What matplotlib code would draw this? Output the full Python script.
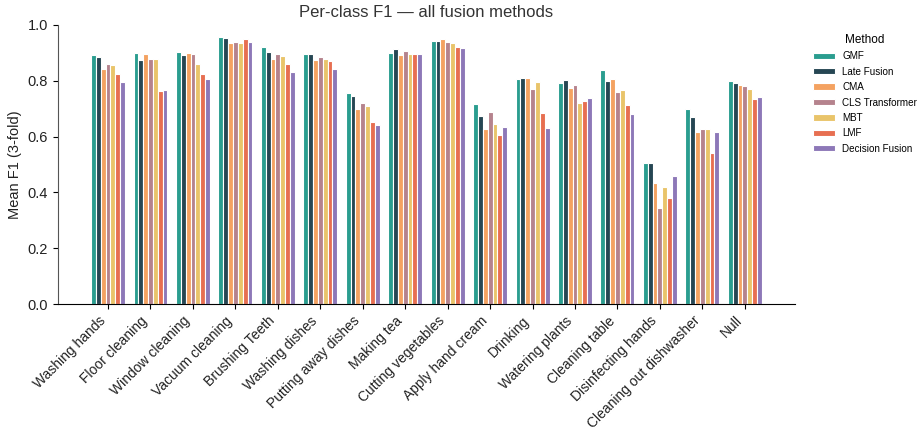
import matplotlib
matplotlib.use('Agg')
import matplotlib.pyplot as plt
import numpy as np

plt.rcParams['font.family'] = ['Liberation Sans', 'DejaVu Sans']

classes = ['Washing hands', 'Floor cleaning', 'Window cleaning', 'Vacuum cleaning',
           'Brushing Teeth', 'Washing dishes', 'Putting away dishes', 'Making tea',
           'Cutting vegetables', 'Apply hand cream', 'Drinking', 'Watering plants',
           'Cleaning table', 'Disinfecting hands', 'Cleaning out dishwasher', 'Null']

methods = ['GMF', 'Late Fusion', 'CMA', 'CLS Transformer', 'MBT', 'LMF', 'Decision Fusion']
colors = ['#2a9d8f', '#264653', '#f4a261', '#b5838d', '#e9c46a', '#e76f51', '#8d78b8']

gmf = [0.892, 0.900, 0.904, 0.956, 0.920, 0.897, 0.757, 0.900, 0.944, 0.717, 0.808, 0.793, 0.837, 0.504, 0.697, 0.799]
late_fusion = [0.885, 0.875, 0.894, 0.952, 0.902, 0.897, 0.744, 0.913, 0.944, 0.674, 0.810, 0.803, 0.799, 0.505, 0.670, 0.791]
cma = [0.841, 0.895, 0.900, 0.937, 0.878, 0.873, 0.699, 0.892, 0.949, 0.627, 0.810, 0.775, 0.806, 0.435, 0.615, 0.784]
cls_transformer = [0.860, 0.878, 0.896, 0.940, 0.896, 0.885, 0.720, 0.908, 0.939, 0.689, 0.771, 0.783, 0.761, 0.343, 0.628, 0.781]
mbt = [0.855, 0.878, 0.861, 0.934, 0.889, 0.879, 0.711, 0.897, 0.934, 0.645, 0.796, 0.722, 0.768, 0.421, 0.628, 0.771]
lmf = [0.824, 0.763, 0.824, 0.949, 0.860, 0.869, 0.652, 0.897, 0.921, 0.606, 0.685, 0.726, 0.712, 0.380, 0.541, 0.736]
decision_fusion = [0.795, 0.767, 0.806, 0.938, 0.830, 0.841, 0.640, 0.897, 0.918, 0.633, 0.632, 0.738, 0.682, 0.460, 0.616, 0.742]

scores = [gmf, late_fusion, cma, cls_transformer, mbt, lmf, decision_fusion]

fig, ax = plt.subplots(figsize=(9.2, 4.3), dpi=100)
x = np.arange(len(classes))
n = len(methods)
group_w = 0.8
w = group_w / n
for i, (name, vals, c) in enumerate(zip(methods, scores, colors)):
    ax.bar(x - group_w / 2 + w * (i + 0.5), vals, width=w, color=c,
           edgecolor='white', linewidth=0.8, label=name)

ax.set_xticks(x)
ax.set_xticklabels(classes, rotation=45, ha='right', fontsize=10, color='#222222')
ax.set_xlim(-1.18, len(classes) - 1 + 1.18)
ax.set_ylim(0, 1.0)
ax.set_yticks([0, 0.2, 0.4, 0.6, 0.8, 1.0])
ax.tick_params(axis='y', labelsize=10.5, labelcolor='#222222')
ax.set_ylabel('Mean F1 (3-fold)', fontsize=10.5, color='#222222')
ax.set_title('Per-class F1 — all fusion methods', fontsize=12, color='#333333', pad=6)
ax.spines['top'].set_visible(False)
ax.spines['right'].set_visible(False)
ax.spines['left'].set_color('#555555')

leg = ax.legend(title='Method', loc='upper left', bbox_to_anchor=(1.012, 1.0),
                frameon=False, fontsize=7.1, title_fontsize=8.5, handlelength=2.3,
                handleheight=0.6, handletextpad=0.7, labelspacing=0.55)

plt.subplots_adjust(left=0.063, right=0.864, top=0.942, bottom=0.293)
plt.savefig('out.png', dpi=100)
